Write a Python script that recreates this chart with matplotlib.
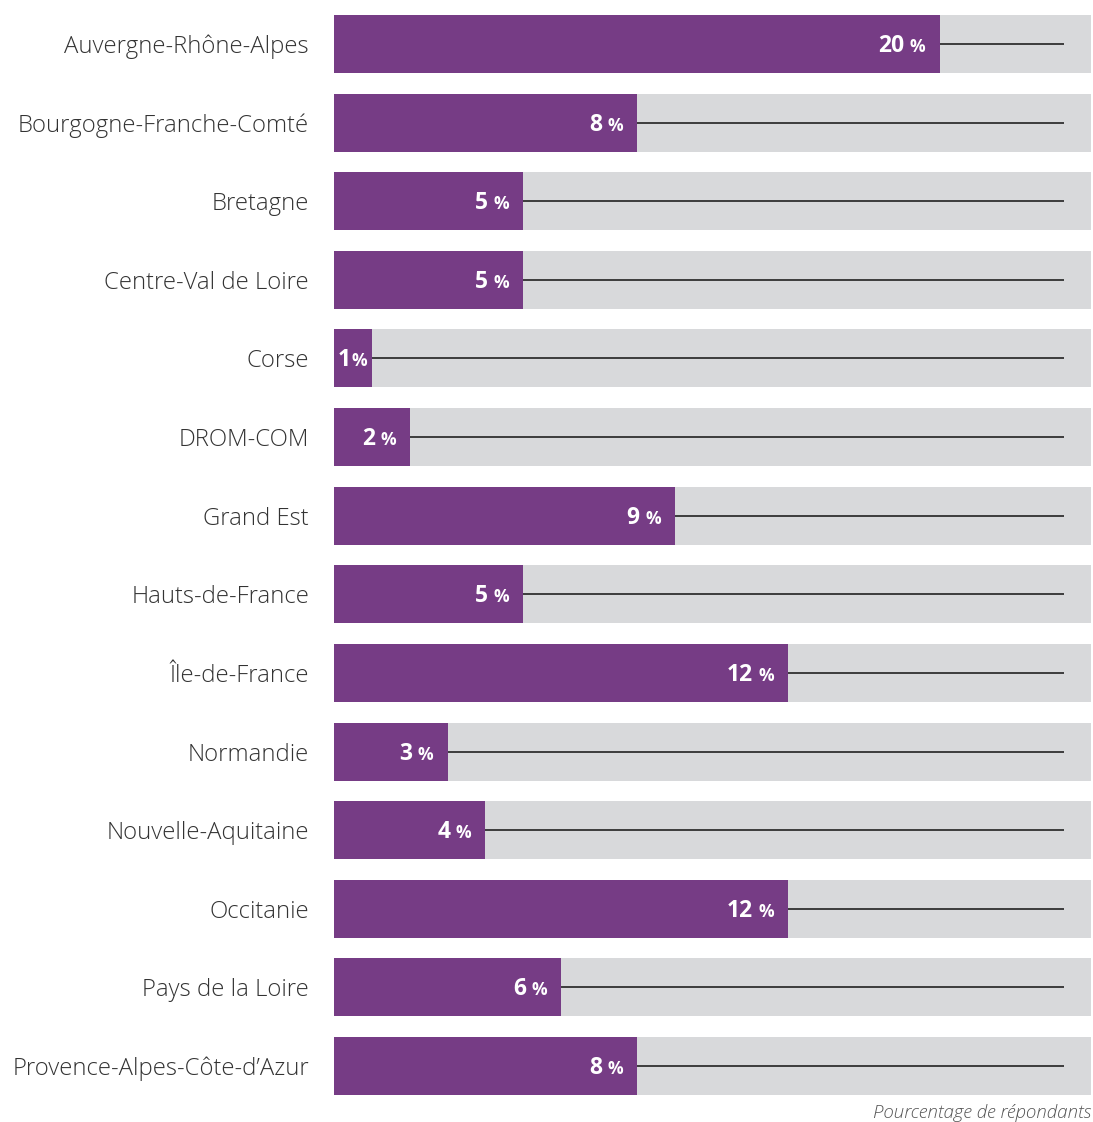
import matplotlib.pyplot as plt
import numpy as np

# Regions and shares of respondents
regions = [
    'Auvergne-Rhône-Alpes', 'Bourgogne-Franche-Comté', 'Bretagne',
    'Centre-Val de Loire', 'Corse', 'DROM-COM', 'Grand Est',
    'Hauts-de-France', 'Île-de-France', 'Normandie', 'Nouvelle-Aquitaine',
    'Occitanie', 'Pays de la Loire', 'Provence-Alpes-Côte-d\u2019Azur'
]
labels = [20, 8, 5, 5, 1, 2, 9, 5, 12, 3, 4, 12, 6, 8]
# bar lengths as drawn (the first bar is shorter than its label)
bar_len = [16, 8, 5, 5, 1, 2, 9, 5, 12, 3, 4, 12, 6, 8]
full_scale = 20

purple = '#763c85'
grey = '#d8d9db'

plt.rcParams['font.family'] = ['Open Sans', 'DejaVu Sans']

fig = plt.figure(figsize=(10.93, 11.22), dpi=100)
ax = fig.add_axes([334 / 1093, 1 - 1095 / 1122, (1091 - 334) / 1093, 1080 / 1122])

y = np.arange(len(regions))
h = 58 / 78.6
ax.barh(y, [full_scale] * len(y), height=h, color=grey, zorder=1)
ax.barh(y, bar_len, height=h, color=purple, zorder=2)
ax.hlines(y, bar_len, full_scale * 0.9643, color='#222222', lw=1.2, zorder=3)

for yi, L, v in zip(y, bar_len, labels):
    if v < 2:
        pct_off, num_off = -5, -21
    else:
        pct_off, num_off = -14, -35
    ax.annotate('%', (L, yi), xytext=(pct_off, -8), textcoords='offset pixels',
                ha='right', va='baseline', color='white', fontsize=12.5,
                fontweight='bold', zorder=4)
    ax.annotate(str(v), (L, yi), xytext=(num_off, -8), textcoords='offset pixels',
                ha='right', va='baseline', color='white', fontsize=16.5,
                fontweight='bold', zorder=4)

ax.set_xlim(0, full_scale)
ax.set_ylim(len(y) - 1 + 0.5 * h, -0.5 * h)
ax.set_yticks(y)
ax.set_yticklabels(regions, fontsize=17.2, fontweight='light', color='#333333')
ax.tick_params(axis='y', length=0, pad=18)
ax.set_xticks([])
for s in ax.spines.values():
    s.set_visible(False)

fig.text(1091 / 1093, 1 - 1113 / 1122, 'Pourcentage de répondants', ha='right',
         va='center', fontsize=13.5, fontstyle='italic', fontweight='light',
         color='#555555')

fig.savefig('out.png', dpi=100)
